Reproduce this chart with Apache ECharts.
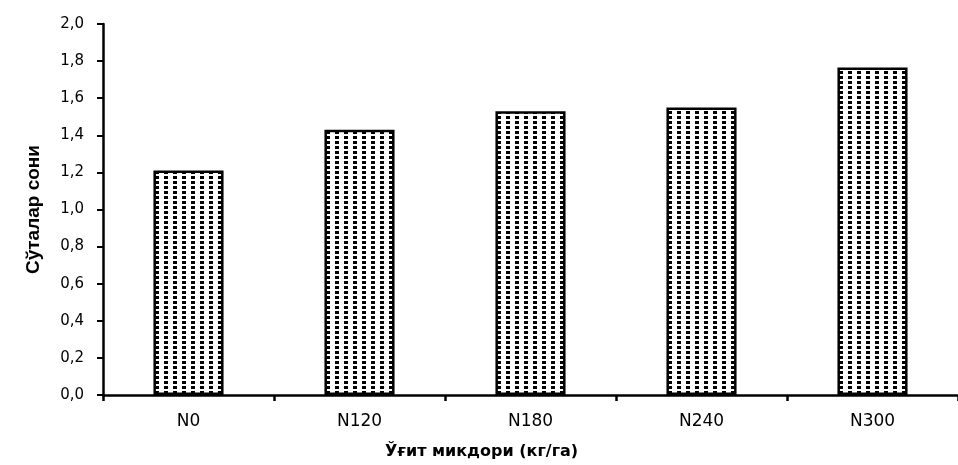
<!DOCTYPE html>
<html>
<head>
<meta charset="utf-8">
<script src="https://cdn.jsdelivr.net/npm/echarts@6/dist/echarts.min.js"></script>
<style>
html,body{margin:0;padding:0;background:#fff;}
#chart{width:958px;height:465px;}
</style>
</head>
<body>
<div id="chart"></div>
<script>
var categories = ['N0', 'N120', 'N180', 'N240', 'N300'];
var values = [1.21, 1.43, 1.53, 1.55, 1.765];
var yTickLabels = ['0,0', '0,2', '0,4', '0,6', '0,8', '1,0', '1,2', '1,4', '1,6', '1,8', '2,0'];
var yAxisTitle = 'Сўталар сони';
var xAxisTitle = 'Ўғит микдори (кг/га)';

// dotted fill pattern
var pc = document.createElement('canvas');
pc.width = 9; pc.height = 5;
var pctx = pc.getContext('2d');
pctx.fillStyle = '#ffffff';
pctx.fillRect(0, 0, 9, 5);
pctx.fillStyle = '#000000';
pctx.fillRect(2, 1, 4, 3);

var chart = echarts.init(document.getElementById('chart'), null, {renderer: 'canvas'});
chart.setOption({
  backgroundColor: '#ffffff',
  animation: false,
  grid: {left: 103, top: 24, width: 864, height: 372, containLabel: false},
  xAxis: {
    type: 'category',
    data: categories,
    boundaryGap: true,
    name: xAxisTitle,
    nameLocation: 'middle',
    nameGap: 49,
    nameTextStyle: {
      fontFamily: 'DejaVu Sans, sans-serif',
      fontWeight: 'bold',
      fontSize: 16,
      color: '#000',
      padding: [0, 98, 0, 0]
    },
    axisLine: {lineStyle: {color: '#000', width: 2.5}},
    axisTick: {show: true, length: 6, inside: false, alignWithLabel: false, lineStyle: {color: '#000', width: 2.5}},
    axisLabel: {
      margin: 18,
      fontFamily: 'DejaVu Sans, sans-serif',
      fontSize: 17,
      color: '#000'
    },
    splitLine: {show: false}
  },
  yAxis: {
    type: 'value',
    min: 0,
    max: 2,
    interval: 0.2,
    name: yAxisTitle,
    nameLocation: 'middle',
    nameRotate: 90,
    nameGap: 60,
    nameTextStyle: {
      fontFamily: 'Liberation Sans Narrow, Liberation Sans, Arial, sans-serif',
      fontWeight: 'bold',
      fontSize: 19,
      color: '#000'
    },
    axisLine: {show: true, lineStyle: {color: '#000', width: 2.5}},
    axisTick: {show: true, length: 6, inside: false, lineStyle: {color: '#000', width: 2}},
    axisLabel: {
      margin: 19,
      fontFamily: 'DejaVu Sans, sans-serif',
      fontSize: 15,
      color: '#000',
      formatter: function (v) { return yTickLabels[Math.round(v / 0.2)]; }
    },
    splitLine: {show: false}
  },
  series: [{
    type: 'bar',
    data: values,
    barWidth: '41%',
    itemStyle: {
      color: {image: pc, repeat: 'repeat'},
      borderColor: '#000',
      borderWidth: 2.5
    }
  }]
});
</script>
</body>
</html>
